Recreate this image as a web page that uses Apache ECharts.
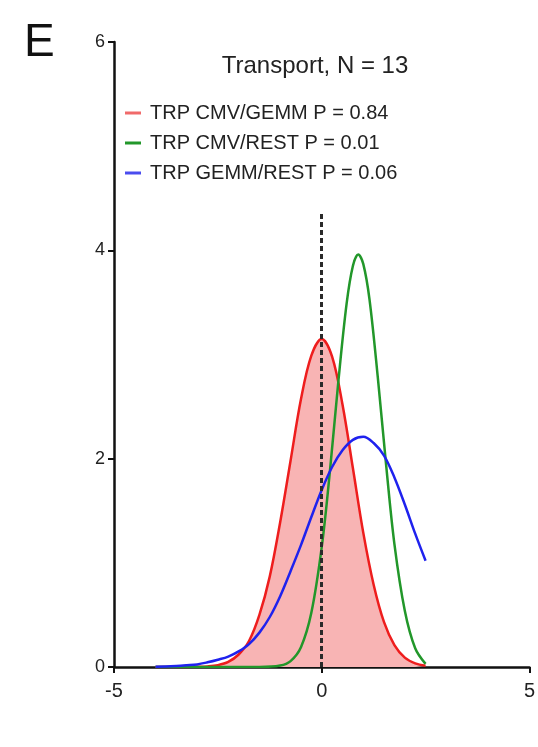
<!DOCTYPE html>
<html>
<head>
<meta charset="utf-8">
<script src="https://cdn.jsdelivr.net/npm/echarts@6/dist/echarts.min.js"></script>
<style>
html,body{margin:0;padding:0;background:#fff;}
#chart{width:538px;height:747px;}
</style>
</head>
<body>
<div id="chart"></div>
<script>
// ---- data ----
const panelLetter = 'E';
const chartTitle = 'Transport, N = 13';
const seriesNames = ['TRP CMV/GEMM P = 0.84', 'TRP CMV/REST P = 0.01', 'TRP GEMM/REST P = 0.06'];

const xTicks = [-5, 0, 5];
const yTicks = [0, 2, 4, 6];

// red: TRP CMV/GEMM
const redX = [-4, -3.75, -3.5, -3.25, -3, -2.75, -2.5, -2.25, -2, -1.75, -1.5, -1.25, -1, -0.75, -0.5, -0.25, 0, 0.25, 0.5, 0.75, 1, 1.25, 1.5, 1.75, 2, 2.25, 2.5];
const redY = [0, 0, 0, 0.001, 0.002, 0.006, 0.018, 0.049, 0.12, 0.25, 0.50, 0.87, 1.39, 1.98, 2.57, 2.99, 3.15, 2.98, 2.52, 1.91, 1.29, 0.79, 0.43, 0.21, 0.09, 0.035, 0.012];

// green: TRP CMV/REST
const greenX = [-4, -3, -2, -1.5, -1, -0.75, -0.5, -0.25, 0, 0.2, 0.4, 0.6, 0.75, 0.88, 1, 1.15, 1.35, 1.55, 1.75, 2, 2.25, 2.5];
const greenY = [0, 0, 0, 0, 0.014, 0.057, 0.19, 0.52, 1.15, 1.89, 2.74, 3.49, 3.85, 3.96, 3.87, 3.53, 2.78, 1.94, 1.18, 0.54, 0.18, 0.03];

// blue: TRP GEMM/REST
const blueX = [-4, -3.75, -3.5, -3.25, -3, -2.75, -2.5, -2.25, -2, -1.75, -1.5, -1.25, -1, -0.75, -0.5, -0.25, 0, 0.25, 0.5, 0.75, 1, 1.25, 1.5, 1.75, 2, 2.25, 2.5];
const blueY = [0.003, 0.005, 0.01, 0.017, 0.025, 0.045, 0.07, 0.10, 0.15, 0.22, 0.33, 0.48, 0.68, 0.92, 1.17, 1.44, 1.70, 1.92, 2.08, 2.18, 2.21, 2.15, 2.03, 1.82, 1.56, 1.28, 1.02];

// dashed reference line
const refLineX = 0;
const refLineBottom = 0;
const refLineTop = 4.35;

// ---- chart ----
const FONT = '"Liberation Sans", Arial, Helvetica, sans-serif';
const pairs = (xs, ys) => xs.map((x, i) => [x, ys[i]]);
const colors = ['#ee1d1d', '#22972a', '#1f22ee'];
const legendColors = ['#f06a6a', '#22972a', '#4a4cee'];

const chart = echarts.init(document.getElementById('chart'), null, {renderer: 'canvas'});

const axisCommon = {
  axisLine: {show: true, onZero: false, lineStyle: {color: '#111', width: 2.5}},
  axisTick: {show: true, length: 6, lineStyle: {color: '#111', width: 2}},
  splitLine: {show: false},
};

const option = {
  animation: false,
  backgroundColor: '#ffffff',
  grid: {left: 114, right: 8, top: 42, bottom: 80, containLabel: false},
  xAxis: Object.assign({
    type: 'value',
    min: xTicks[0], max: xTicks[xTicks.length - 1], interval: 5,
    axisLabel: {fontSize: 20, color: '#222', fontFamily: FONT, margin: 14,
      formatter: v => xTicks.includes(v) ? String(v) : ''}
  }, axisCommon),
  yAxis: Object.assign({
    type: 'value',
    min: yTicks[0], max: yTicks[yTicks.length - 1], interval: 2,
    axisLabel: {fontSize: 18, color: '#222', fontFamily: FONT, margin: 9,
      formatter: v => yTicks.includes(v) ? String(v) : ''}
  }, axisCommon),
  legend: {
    orient: 'vertical',
    left: 125, top: 103,
    padding: 0,
    itemGap: 10,
    itemWidth: 16, itemHeight: 3,
    icon: 'rect',
    textStyle: {fontSize: 20, color: '#222', fontFamily: FONT, padding: [0, 0, 0, 4]},
    data: seriesNames.map((n, i) => ({name: n, itemStyle: {color: legendColors[i]}}))
  },
  graphic: [
    {type: 'text', x: 24, y: 43, style: {text: panelLetter, font: '46px ' + FONT, fill: '#111', textVerticalAlign: 'middle'}},
    {type: 'text', x: 315, y: 66, style: {text: chartTitle, font: '24px ' + FONT, fill: '#222', textAlign: 'center', textVerticalAlign: 'middle'}}
  ],
  series: [
    {
      name: seriesNames[0], type: 'line', data: pairs(redX, redY),
      smooth: 0.35, showSymbol: false, symbol: 'none',
      lineStyle: {color: colors[0], width: 2.5},
      itemStyle: {color: colors[0]},
      areaStyle: {color: '#f8b4b4', opacity: 1},
      z: 2
    },
    {
      name: seriesNames[1], type: 'line', data: pairs(greenX, greenY),
      smooth: 0.35, showSymbol: false, symbol: 'none',
      lineStyle: {color: colors[1], width: 2.5},
      itemStyle: {color: colors[1]},
      z: 3
    },
    {
      name: seriesNames[2], type: 'line', data: pairs(blueX, blueY),
      smooth: 0.35, showSymbol: false, symbol: 'none',
      lineStyle: {color: colors[2], width: 2.5},
      itemStyle: {color: colors[2]},
      z: 4
    },
    {
      name: 'ref', type: 'line', data: [], z: 5,
      markLine: {
        silent: true, symbol: 'none', animation: false,
        label: {show: false},
        lineStyle: {color: '#2a2a2a', width: 3, type: [5, 3]},
        data: [[{coord: [refLineX, refLineBottom]}, {coord: [refLineX, refLineTop]}]]
      }
    }
  ]
};
chart.setOption(option);
</script>
</body>
</html>
